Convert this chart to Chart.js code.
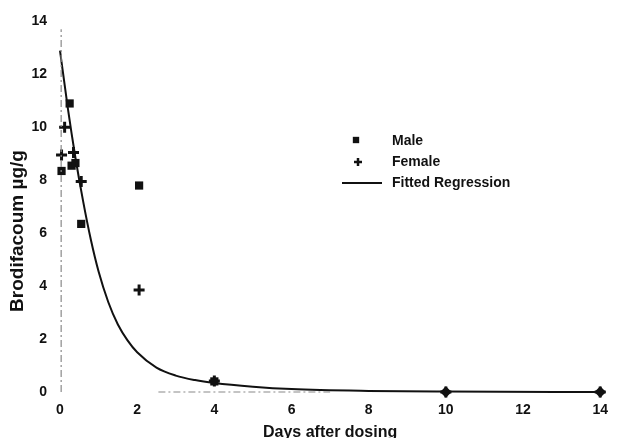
<!DOCTYPE html>
<html><head><meta charset="utf-8">
<script src="https://cdn.jsdelivr.net/npm/chart.js@4/dist/chart.umd.min.js"></script>
<style>html,body{margin:0;padding:0;background:#fff}#wrap{width:618px;height:438px}</style>
</head><body><div id="wrap"><canvas id="c" width="618" height="438"></canvas></div>
<script>
// ---- data ----
const maleDays   = [0.04, 0.25, 0.30, 0.40, 0.55, 2.05, 4.0, 10, 14];
const maleConc   = [8.35, 10.9, 8.55, 8.65, 6.35, 7.8, 0.40, 0, 0];
const femaleDays = [0.04, 0.12, 0.35, 0.55, 2.05, 4.0, 10, 14];
const femaleConc = [8.95, 10.0, 9.05, 7.95, 3.85, 0.42, 0, 0];
const fitDays    = [0, 0.2, 0.4, 0.6, 0.8, 1.0, 1.25, 1.5, 1.75, 2.0, 2.5, 3.0, 3.5, 4.0, 5.0, 6.0, 8.0, 10.0, 14.0];
const fitConc    = [12.9, 10.75, 8.85, 7.2, 5.75, 4.55, 3.4, 2.55, 1.95, 1.5, 0.92, 0.62, 0.45, 0.34, 0.2, 0.11, 0.04, 0.015, 0];
const refVDays   = [0.03, 0.03];
const refVConc   = [0, 13.7];
const refHDays   = [2.55, 7.0];
const refHConc   = [0, 0];
const xTicks     = [0, 2, 4, 6, 8, 10, 12, 14];
const yTicks     = [0, 2, 4, 6, 8, 10, 12, 14];
const labels     = {male: 'Male', female: 'Female', fit: 'Fitted Regression'};
const xTitle     = 'Days after dosing';
const yTitle     = 'Brodifacoum µg/g';

const pts = (xs, ys) => xs.map((x, i) => ({x, y: ys[i]}));
const FONT = '"Liberation Sans", Arial, sans-serif';
const INK = '#111';

const customText = {
  id: 'customText',
  afterDraw(chart) {
    const ctx = chart.ctx;
    ctx.save();
    ctx.fillStyle = INK;
    // y axis title
    ctx.translate(18, 231);
    ctx.rotate(-Math.PI / 2);
    ctx.font = 'bold 19px ' + FONT;
    ctx.textAlign = 'center';
    ctx.textBaseline = 'middle';
    ctx.fillText(yTitle, 0, 0);
    ctx.restore();

    // legend
    ctx.save();
    ctx.font = 'bold 14px ' + FONT;
    ctx.fillStyle = INK;
    ctx.textAlign = 'left';
    ctx.textBaseline = 'middle';
    const tx = 392;
    Chart.helpers.drawPoint(ctx, {pointStyle: 'rect', radius: 4.5, borderWidth: 0}, 356, 140);
    ctx.fillText(labels.male, tx, 141);
    ctx.strokeStyle = INK;
    ctx.lineWidth = 2.5;
    Chart.helpers.drawPoint(ctx, {pointStyle: 'cross', radius: 4, borderWidth: 2.5}, 358, 162);
    ctx.fillText(labels.female, tx, 162);
    ctx.beginPath();
    ctx.lineWidth = 1.8;
    ctx.moveTo(342, 183); ctx.lineTo(382, 183); ctx.stroke();
    ctx.fillText(labels.fit, tx, 183);
    ctx.restore();
  }
};

new Chart(document.getElementById('c'), {
  type: 'scatter',
  data: {
    datasets: [
      {label: 'vref', type: 'line', data: pts(refVDays, refVConc), borderColor: '#8a8a8a', borderWidth: 1.2,
       borderDash: [7, 3, 2, 3], pointRadius: 0, fill: false, clip: false},
      {label: 'href', type: 'line', data: pts(refHDays, refHConc), borderColor: '#8a8a8a', borderWidth: 1.2,
       borderDash: [7, 3, 2, 3], pointRadius: 0, fill: false, clip: false},
      {label: labels.fit, type: 'line', data: pts(fitDays, fitConc), borderColor: INK, borderWidth: 2,
       pointRadius: 0, fill: false, cubicInterpolationMode: 'monotone', clip: false},
      {label: labels.male, data: pts(maleDays, maleConc), pointStyle: ctx => (ctx.raw && ctx.raw.y === 0 ? 'rectRot' : 'rect'),
       pointRadius: 5.8, backgroundColor: INK, borderColor: INK, borderWidth: 0, clip: false},
      {label: labels.female, data: pts(femaleDays, femaleConc), pointStyle: 'cross',
       pointRadius: 5.5, backgroundColor: INK, borderColor: INK, borderWidth: 3, clip: false}
    ]
  },
  options: {
    responsive: false,
    animation: false,
    devicePixelRatio: 1,
    layout: {padding: {top: 21, right: 12, left: 0, bottom: 0}},
    plugins: {legend: {display: false}, tooltip: {enabled: false}},
    scales: {
      x: {
        type: 'linear', min: 0, max: 14,
        afterBuildTicks: s => { s.ticks = xTicks.map(v => ({value: v})); },
        afterFit: s => { s.height = 46; },
        grid: {display: false, drawTicks: false}, border: {display: false},
        ticks: {padding: 10, color: INK, font: {family: FONT, size: 14, weight: 'bold'}, maxRotation: 0},
        title: {display: true, text: xTitle, color: INK, font: {family: FONT, size: 16, weight: 'bold', lineHeight: 1}, padding: {top: 0, bottom: -3}}
      },
      y: {
        type: 'linear', min: 0, max: 14,
        afterBuildTicks: s => { s.ticks = yTicks.map(v => ({value: v})); },
        afterFit: s => { s.width = 60; },
        grid: {display: false, drawTicks: false}, border: {display: false},
        ticks: {padding: 13, color: INK, font: {family: FONT, size: 14, weight: 'bold'}}
      }
    }
  },
  plugins: [customText]
});
</script>
</body></html>
